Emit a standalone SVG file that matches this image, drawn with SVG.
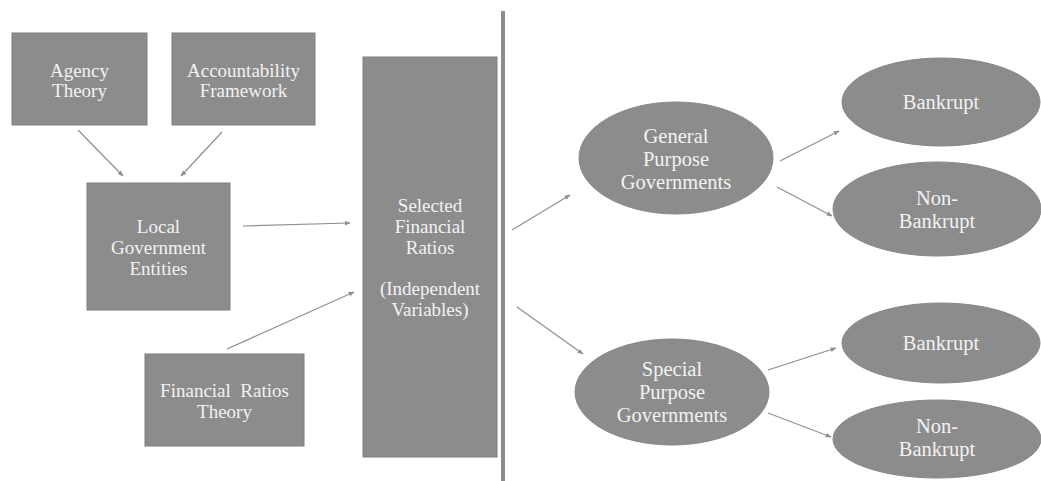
<svg xmlns="http://www.w3.org/2000/svg" width="1041" height="481" viewBox="0 0 1041 481">
  <style>
    .box { fill: #8c8c8c; stroke: #7e7e7e; stroke-width: 1; }
    .oval { fill: #8c8c8c; stroke: #888888; stroke-width: 1; }
    .lbl { font-family: 'Liberation Serif', 'DejaVu Serif', serif; font-size: 19px; fill: #f2f2f2; text-anchor: middle; }
    .olbl { font-family: 'Liberation Serif', 'DejaVu Serif', serif; font-size: 20.5px; fill: #f2f2f2; text-anchor: middle; }
    .conn { stroke: #8f8f8f; stroke-width: 1.2; fill: none; marker-end: url(#arrow); }
    .divider { stroke: #8c8c8c; stroke-width: 4; }
  </style>
  <defs>
    <marker id="arrow" viewBox="0 0 10 10" refX="9" refY="5" markerWidth="6" markerHeight="6" orient="auto" markerUnits="userSpaceOnUse">
      <path d="M0,1 L10,5 L0,9 z" fill="#8f8f8f"/>
    </marker>
  </defs>
  <rect width="1041" height="481" fill="#ffffff"/>

  <!-- column divider -->
  <line class="divider" x1="503" y1="11" x2="503" y2="481"/>

  <g id="agency-theory">
    <rect class="box" x="12" y="33" width="135" height="92"/>
    <text class="lbl" x="79.5" y="77">Agency</text>
    <text class="lbl" x="79.5" y="97">Theory</text>
  </g>

  <g id="accountability-framework">
    <rect class="box" x="172" y="33" width="143" height="92"/>
    <text class="lbl" x="243.5" y="77">Accountability</text>
    <text class="lbl" x="243.5" y="97">Framework</text>
  </g>

  <g id="local-government-entities">
    <rect class="box" x="87" y="183" width="143" height="127"/>
    <text class="lbl" x="158.5" y="233">Local</text>
    <text class="lbl" x="158.5" y="254">Government</text>
    <text class="lbl" x="158.5" y="275">Entities</text>
  </g>

  <g id="financial-ratios-theory">
    <rect class="box" x="145" y="354" width="159" height="92"/>
    <text class="lbl" x="224.5" y="397" xml:space="preserve">Financial  Ratios</text>
    <text class="lbl" x="224.5" y="418">Theory</text>
  </g>

  <g id="selected-financial-ratios">
    <rect class="box" x="363" y="57" width="134" height="400"/>
    <text class="lbl" x="430" y="212">Selected</text>
    <text class="lbl" x="430" y="233">Financial</text>
    <text class="lbl" x="430" y="254">Ratios</text>
    <text class="lbl" x="430" y="295">(Independent</text>
    <text class="lbl" x="430" y="316">Variables)</text>
  </g>

  <g id="general-purpose-governments">
    <ellipse class="oval" cx="676" cy="158" rx="97" ry="56"/>
    <text class="olbl" x="676" y="143">General</text>
    <text class="olbl" x="676" y="166">Purpose</text>
    <text class="olbl" x="676" y="189">Governments</text>
  </g>

  <g id="special-purpose-governments">
    <ellipse class="oval" cx="672" cy="392" rx="97" ry="53"/>
    <text class="olbl" x="672" y="376">Special</text>
    <text class="olbl" x="672" y="399">Purpose</text>
    <text class="olbl" x="672" y="422">Governments</text>
  </g>

  <g id="gp-bankrupt">
    <ellipse class="oval" cx="941" cy="102" rx="99" ry="44"/>
    <text class="olbl" x="941" y="109">Bankrupt</text>
  </g>

  <g id="gp-non-bankrupt">
    <ellipse class="oval" cx="937" cy="209" rx="104" ry="47"/>
    <text class="olbl" x="937" y="205">Non-</text>
    <text class="olbl" x="937" y="228">Bankrupt</text>
  </g>

  <g id="sp-bankrupt">
    <ellipse class="oval" cx="941" cy="343" rx="99" ry="40"/>
    <text class="olbl" x="941" y="350">Bankrupt</text>
  </g>

  <g id="sp-non-bankrupt">
    <ellipse class="oval" cx="937" cy="439" rx="104" ry="39"/>
    <text class="olbl" x="937" y="433">Non-</text>
    <text class="olbl" x="937" y="456">Bankrupt</text>
  </g>

  <g id="connectors">
    <line class="conn" x1="78" y1="130" x2="123" y2="176"/>
    <line class="conn" x1="222" y1="132" x2="181" y2="176"/>
    <line class="conn" x1="243" y1="226" x2="350" y2="223"/>
    <line class="conn" x1="227" y1="349" x2="354" y2="292"/>
    <line class="conn" x1="512" y1="230" x2="570" y2="195"/>
    <line class="conn" x1="517" y1="307" x2="583" y2="354"/>
    <line class="conn" x1="780" y1="161" x2="839" y2="131"/>
    <line class="conn" x1="777" y1="187" x2="832" y2="216"/>
    <line class="conn" x1="768" y1="370" x2="836" y2="348"/>
    <line class="conn" x1="768" y1="413" x2="831" y2="437"/>
  </g>
</svg>
